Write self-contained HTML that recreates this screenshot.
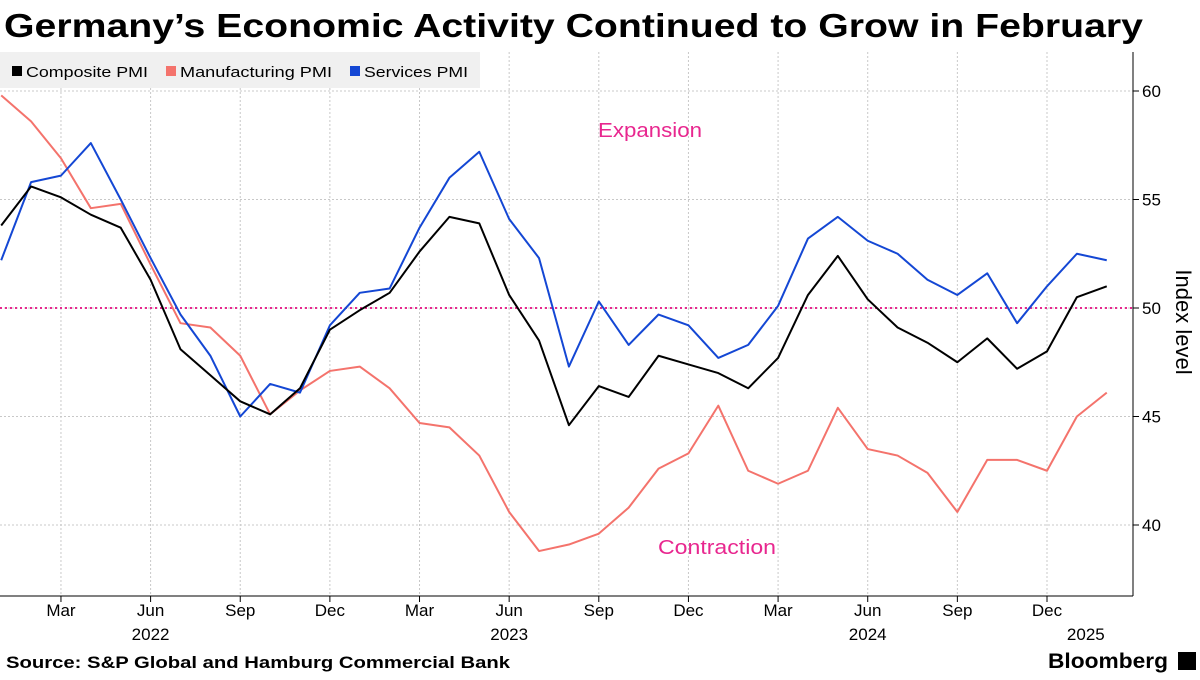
<!DOCTYPE html>
<html><head><meta charset="utf-8"><style>
body{margin:0;background:#fff;font-family:"Liberation Sans",sans-serif;}
svg text{font-family:"Liberation Sans",sans-serif;}
</style></head><body>
<svg id="c" width="1200" height="675" viewBox="0 0 1200 675" xmlns="http://www.w3.org/2000/svg">
<text x="4" y="37" font-size="33" font-weight="bold" fill="#000" textLength="1139" lengthAdjust="spacingAndGlyphs">Germany’s Economic Activity Continued to Grow in February</text>
<g id="grid"></g>
<g id="legend">
<rect x="0" y="52" width="480" height="36" fill="#f0f0f0"/>
<rect x="12" y="66" width="10" height="10" fill="#000"/>
<text x="26" y="77" font-size="15" textLength="122" lengthAdjust="spacingAndGlyphs">Composite PMI</text>
<rect x="166" y="66" width="10" height="10" fill="#f4736c"/>
<text x="180" y="77" font-size="15" textLength="152" lengthAdjust="spacingAndGlyphs">Manufacturing PMI</text>
<rect x="350" y="66" width="10" height="10" fill="#1447d4"/>
<text x="364" y="77" font-size="15" textLength="104" lengthAdjust="spacingAndGlyphs">Services PMI</text>
</g>
<text x="598" y="137" font-size="20" fill="#e8278f" textLength="104" lengthAdjust="spacingAndGlyphs">Expansion</text>
<text x="658" y="554" font-size="20" fill="#e8278f" textLength="118" lengthAdjust="spacingAndGlyphs">Contraction</text>
<g id="series"></g>
<text transform="translate(1176,322) rotate(90)" font-size="22" text-anchor="middle">Index level</text>
<text x="6" y="668" font-size="17" font-weight="bold" textLength="504" lengthAdjust="spacingAndGlyphs">Source: S&amp;P Global and Hamburg Commercial Bank</text>
<text x="1048" y="668" font-size="21" font-weight="bold" textLength="120" lengthAdjust="spacingAndGlyphs">Bloomberg</text>
<rect x="1178" y="652" width="18" height="18" fill="#000"/>
</svg>
<script>
const months=["Jan22","Feb22","Mar22","Apr22","May22","Jun22","Jul22","Aug22","Sep22","Oct22","Nov22","Dec22","Jan23","Feb23","Mar23","Apr23","May23","Jun23","Jul23","Aug23","Sep23","Oct23","Nov23","Dec23","Jan24","Feb24","Mar24","Apr24","May24","Jun24","Jul24","Aug24","Sep24","Oct24","Nov24","Dec24","Jan25","Feb25"];
const composite=[53.8,55.6,55.1,54.3,53.7,51.3,48.1,46.9,45.7,45.1,46.3,49.0,49.9,50.7,52.6,54.2,53.9,50.6,48.5,44.6,46.4,45.9,47.8,47.4,47.0,46.3,47.7,50.6,52.4,50.4,49.1,48.4,47.5,48.6,47.2,48.0,50.5,51.0];
const manufacturing=[59.8,58.6,56.9,54.6,54.8,52.0,49.3,49.1,47.8,45.1,46.2,47.1,47.3,46.3,44.7,44.5,43.2,40.6,38.8,39.1,39.6,40.8,42.6,43.3,45.5,42.5,41.9,42.5,45.4,43.5,43.2,42.4,40.6,43.0,43.0,42.5,45.0,46.1];
const services=[52.2,55.8,56.1,57.6,55.0,52.3,49.7,47.8,45.0,46.5,46.1,49.2,50.7,50.9,53.7,56.0,57.2,54.1,52.3,47.3,50.3,48.3,49.7,49.2,47.7,48.3,50.1,53.2,54.2,53.1,52.5,51.3,50.6,51.6,49.3,51.0,52.5,52.2];
const yTicks=[40,45,50,55,60];
const xTickIdx=[2,5,8,11,14,17,20,23,26,29,32,35];
const xTickLabels=["Mar","Jun","Sep","Dec","Mar","Jun","Sep","Dec","Mar","Jun","Sep","Dec"];
const yearIdx=[5,17,29,36.3];
const yearLabels=["2022","2023","2024","2025"];
const NS="http://www.w3.org/2000/svg";
const X=i=>1.2+i*29.88;
const Y=v=>308-(v-50)*21.7;
const g=document.getElementById('grid'),s=document.getElementById('series');
function mk(p,tag,a){const e=document.createElementNS(NS,tag);for(const k in a)e.setAttribute(k,a[k]);p.appendChild(e);return e;}
yTicks.forEach(t=>{
 const l=mk(g,'line',{x1:0,x2:1133,y1:Y(t),y2:Y(t),stroke:'#c8c8c8','stroke-dasharray':'2,2'});
 
 
 const tk=mk(g,'line',{x1:1133,x2:1139,y1:Y(t),y2:Y(t),stroke:'#000'});
 
 
 const tx=mk(g,'text',{x:1142,y:Y(t)+6,'font-size':17});tx.textContent=t;
 
 
});
xTickIdx.forEach((i,k)=>{
 const l=mk(g,'line',{x1:X(i),x2:X(i),y1:52,y2:596,stroke:'#c8c8c8','stroke-dasharray':'2,2'});
 
 
 const tk=mk(g,'line',{x1:X(i),x2:X(i),y1:596,y2:602,stroke:'#000'});
 
 
 const tx=mk(g,'text',{x:X(i),y:616,'font-size':17,'text-anchor':'middle'});tx.textContent=xTickLabels[k];
 
 
});
yearIdx.forEach((i,k)=>{
 const tx=mk(g,'text',{x:X(i),y:640,'font-size':17,'text-anchor':'middle'});tx.textContent=yearLabels[k];
 
 
});
const ax=mk(g,'line',{x1:1133,x2:1133,y1:52,y2:596,stroke:'#000'});


const bx=mk(g,'line',{x1:0,x2:1133,y1:596,y2:596,stroke:'#000'});


const ref=mk(s,'line',{x1:0,x2:1133,y1:Y(50),y2:Y(50),stroke:'#e8278f','stroke-width':2,'stroke-dasharray':'2,3'});


[[manufacturing,'#f4736c','manufacturing-line'],[services,'#1447d4','services-line'],[composite,'#000','composite-line']].forEach(([d,c,n])=>{
 const p=mk(s,'polyline',{points:d.map((v,i)=>X(i)+','+Y(v)).join(' '),fill:'none',stroke:c,'stroke-width':2,'stroke-linejoin':'round'});
 
 
});
</script>
</body></html>
